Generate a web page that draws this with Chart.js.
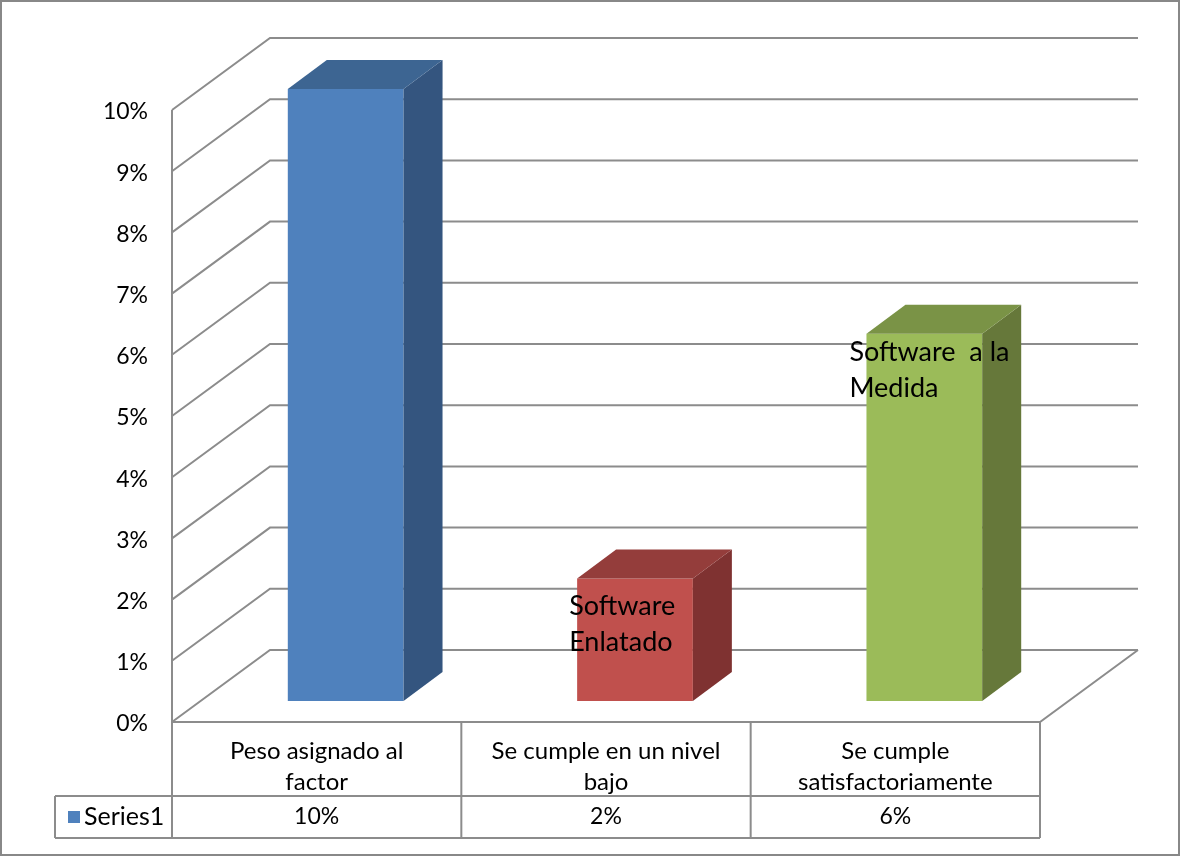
<!DOCTYPE html>
<html><head><meta charset="utf-8">
<script src="https://cdn.jsdelivr.net/npm/chart.js@4.4.0/dist/chart.umd.min.js"></script>
<style>html,body{margin:0;padding:0;background:#fff;}canvas{display:block;}</style>
</head><body>
<canvas id="c" width="1180" height="856"></canvas>
<script>
// ---- data ----
const categories = [["Peso asignado al", "factor"], ["Se cumple en un nivel", "bajo"], ["Se cumple", "satisfactoriamente"]];
const seriesName = "Series1";
const values = [10, 2, 6];
const valueLabels = ["10%", "2%", "6%"];
const barLabels = [[], ["Software", "Enlatado"], ["Software  a la", "Medida"]];
const yMin = 0, yMax = 10, yStep = 1;

// ---- style ----
const FONT = 'Lato, "Open Sans", sans-serif';
const frontColors = ["#4F81BD", "#C0504D", "#9BBB59"];
const sideColors = ["#34557F", "#7F3231", "#66783A"];
const topColors = ["#3D6592", "#943D3B", "#7A9346"];
const GRID = "#8c8c8c";
const DX = 98, DY = 72;   // wall depth
const OX = 29, OY = 21;   // bar plane offset from front wall
const BX = 39, BY = 29;   // bar depth
const labelShift = [[0, 0], [-8, 28], [-17, 18]];

const threeD = {
  id: 'threeD',
  beforeDatasetsDraw(chart) {
    const {ctx, chartArea: a, scales: {y}} = chart;
    const x0 = a.left - OX, x1 = a.right - OX;
    ctx.save();
    ctx.strokeStyle = GRID; ctx.lineWidth = 2;
    ctx.beginPath();
    y.ticks.forEach(t => {
      const yf = y.getPixelForValue(t.value) + OY;
      ctx.moveTo(x0, yf); ctx.lineTo(x0 + DX, yf - DY); ctx.lineTo(x1 + DX, yf - DY);
    });
    const yTop = y.getPixelForValue(yMax) + OY, yBot = y.getPixelForValue(yMin) + OY;
    ctx.moveTo(x0, yTop); ctx.lineTo(x0, yBot); ctx.lineTo(x1, yBot); ctx.lineTo(x1 + DX, yBot - DY);
    ctx.stroke();
    ctx.restore();
  },
  afterDatasetsDraw(chart) {
    const {ctx} = chart;
    const meta = chart.getDatasetMeta(0);
    ctx.save();
    meta.data.forEach((bar, i) => {
      const p = bar.getProps(['x', 'y', 'base', 'width'], true);
      const l = p.x - p.width / 2, r = p.x + p.width / 2;
      ctx.fillStyle = sideColors[i];
      ctx.beginPath();
      ctx.moveTo(r, p.y); ctx.lineTo(r + BX, p.y - BY); ctx.lineTo(r + BX, p.base - BY); ctx.lineTo(r, p.base);
      ctx.closePath(); ctx.fill();
      ctx.fillStyle = topColors[i];
      ctx.beginPath();
      ctx.moveTo(l, p.y); ctx.lineTo(l + BX, p.y - BY); ctx.lineTo(r + BX, p.y - BY); ctx.lineTo(r, p.y);
      ctx.closePath(); ctx.fill();
    });
    ctx.fillStyle = '#000';
    ctx.font = '27px ' + FONT;
    ctx.textAlign = 'left'; ctx.textBaseline = 'middle';
    meta.data.forEach((bar, i) => {
      const p = bar.getProps(['x', 'y', 'width'], true);
      const l = p.x - p.width / 2;
      barLabels[i].forEach((line, k) => {
        ctx.fillText(line, l + labelShift[i][0], p.y + labelShift[i][1] + k * 36);
      });
    });
    ctx.restore();
  },
  afterDraw(chart) {
    const {ctx, chartArea: a, scales: {y}} = chart;
    const x0 = a.left - OX, x1 = a.right - OX;
    const yBot = y.getPixelForValue(yMin) + OY;
    const r1 = yBot + 74, r2 = yBot + 116, legL = 55;
    const colW = (x1 - x0) / categories.length;
    ctx.save();
    ctx.strokeStyle = GRID; ctx.lineWidth = 2;
    ctx.beginPath();
    for (let i = 0; i <= categories.length; i++) {
      const xx = x0 + i * colW;
      ctx.moveTo(xx, yBot); ctx.lineTo(xx, r2);
    }
    ctx.moveTo(legL, r1); ctx.lineTo(x1, r1);
    ctx.moveTo(legL, r2); ctx.lineTo(x1, r2);
    ctx.moveTo(legL, r1); ctx.lineTo(legL, r2);
    ctx.stroke();
    ctx.fillStyle = '#000';
    ctx.font = '23px ' + FONT;
    ctx.textBaseline = 'middle'; ctx.textAlign = 'center';
    const ym = (r1 + r2) / 2;
    valueLabels.forEach((t, i) => ctx.fillText(t, x0 + (i + 0.5) * colW, ym));
    ctx.fillStyle = frontColors[0];
    ctx.fillRect(68, ym - 6, 12, 12);
    ctx.fillStyle = '#000';
    ctx.textAlign = 'left';
    ctx.font = '25px ' + FONT;
    ctx.fillText(seriesName, 84, ym);
    ctx.strokeStyle = '#888'; ctx.lineWidth = 2;
    ctx.strokeRect(1, 1, 1178, 854);
    ctx.restore();
  }
};

new Chart(document.getElementById('c'), {
  type: 'bar',
  data: {
    labels: categories,
    datasets: [{
      label: seriesName,
      data: values,
      backgroundColor: frontColors,
      borderWidth: 0,
      barPercentage: 0.4,
      categoryPercentage: 1.0
    }]
  },
  options: {
    responsive: false,
    animation: false,
    layout: {padding: {top: 89, right: 111, left: 0, bottom: 0}},
    plugins: {legend: {display: false}, tooltip: {enabled: false}},
    scales: {
      x: {
        grid: {display: false, drawTicks: false},
        border: {display: false},
        ticks: {
          autoSkip: false, maxRotation: 0, minRotation: 0,
          color: '#000', font: {family: FONT, size: 24, lineHeight: '31px'},
          padding: 35, labelOffset: -OX
        },
        afterFit(s) { s.height = 155; }
      },
      y: {
        min: yMin, max: yMax,
        grid: {display: false, drawTicks: false},
        border: {display: false},
        ticks: {
          stepSize: yStep, color: '#000',
          font: {family: FONT, size: 23},
          padding: 53, labelOffset: 23,
          callback: v => v + '%'
        },
        afterFit(s) { s.width = 201; }
      }
    }
  },
  plugins: [threeD]
});
</script>
</body></html>
